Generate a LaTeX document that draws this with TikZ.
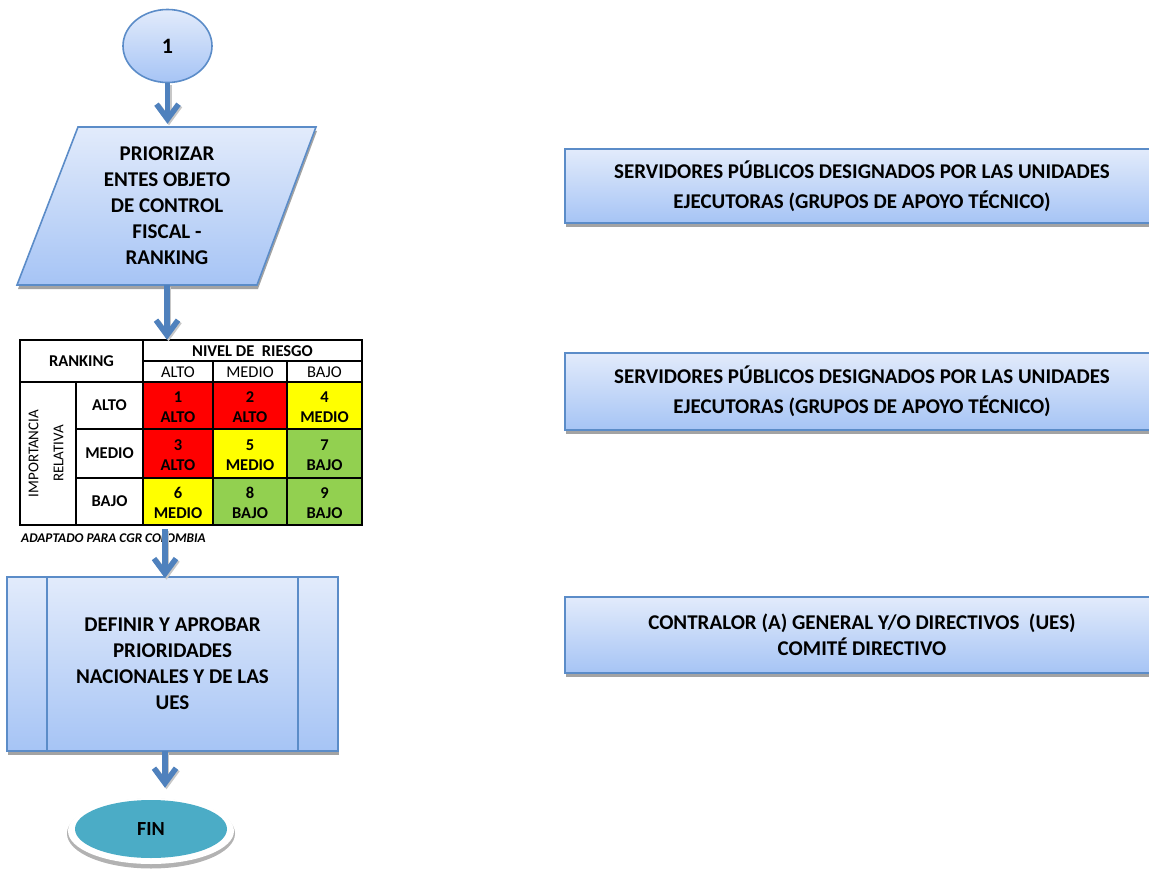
\documentclass[tikz,border=0pt]{standalone}
\usepackage{fontspec}
\setmainfont{Carlito}
\usetikzlibrary{arrows.meta,shapes.geometric,shadows}

\definecolor{boxtop}{HTML}{E2EBFB}
\definecolor{boxbot}{HTML}{A6C4F5}
\definecolor{boxline}{HTML}{5B8CC8}
\definecolor{arrowblue}{HTML}{4F81BD}
\definecolor{finteal}{HTML}{4BACC6}
\definecolor{rred}{HTML}{FF0000}
\definecolor{ryellow}{HTML}{FFFF00}
\definecolor{rgreen}{HTML}{92D050}

\tikzset{
  gradbox/.style={top color=boxtop, bottom color=boxbot, draw=boxline, line width=1.6pt},
  boxshadow/.style={drop shadow={shadow xshift=1pt, shadow yshift=-4pt, fill=black!45, opacity=0.8}},
  maintext/.style={font=\bfseries\fontsize{21}{26}\selectfont, align=center, text=black},
  barbtip/.style={-{Straight Barb[length=15pt,width=22pt]}},
  flowarrow/.style={draw=arrowblue, line width=5.5pt, barbtip,
    preaction={draw=black!22, line width=5.5pt, barbtip,
      transform canvas={xshift=1.5pt,yshift=-1.5pt}}},
  tabline/.style={draw=black, line width=2pt},
  cell/.style={font=\bfseries\fontsize{16.5}{20}\selectfont, align=center, inner sep=0pt},
  hdr/.style={font=\bfseries\fontsize{16.5}{20}\selectfont, align=center, inner sep=0pt},
  subhdr/.style={font=\fontsize{16.5}{20}\selectfont, align=center, inner sep=0pt},
  roletext/.style={font=\bfseries\fontsize{21}{30}\selectfont, align=center, text=black}
}

\begin{document}
\begin{tikzpicture}[x=1pt,y=-1pt]
\useasboundingbox (0,0) rectangle (1149,869);
\clip (0,0) rectangle (1149,869);

% start connector
\node[ellipse, gradbox, minimum width=89pt, minimum height=73pt, inner sep=0pt,
      font=\bfseries\fontsize{22}{26}\selectfont] (c1) at (167.5,46) {1};

% data step: prioritise the audited entities
\path[gradbox, boxshadow] (78,127) -- (316,127) -- (257,285) -- (17,285) -- cycle;
\node[maintext, minimum height=158pt, inner sep=0pt] (pz) at (167,206)
  {PRIORIZAR\\ENTES OBJETO\\DE CONTROL\\FISCAL -\\RANKING};

% risk ranking matrix
\node[minimum width=342pt, minimum height=185pt, inner sep=0pt] (tbl) at (191,432.5) {};
\fill[rred]    (143,382) rectangle (213,429);
\fill[rred]    (213,382) rectangle (287,429);
\fill[ryellow] (287,382) rectangle (362,429);
\fill[rred]    (143,429) rectangle (213,478);
\fill[ryellow] (213,429) rectangle (287,478);
\fill[rgreen]  (287,429) rectangle (362,478);
\fill[ryellow] (143,478) rectangle (213,525);
\fill[rgreen]  (213,478) rectangle (287,525);
\fill[rgreen]  (287,478) rectangle (362,525);
\draw[tabline] (20,340) rectangle (362,525);
\draw[tabline] (143,361) -- (362,361);
\draw[tabline] (20,382) -- (362,382);
\draw[tabline] (76,429) -- (362,429);
\draw[tabline] (76,478) -- (362,478);
\draw[tabline] (143,340) -- (143,525);
\draw[tabline] (76,382) -- (76,525);
\draw[tabline] (213,361) -- (213,525);
\draw[tabline] (287,361) -- (287,525);

\node[hdr] (hrank) at (81.5,361) {RANKING};
\node[hdr] (hnivel) at (252.5,351) {NIVEL DE\ \ RIESGO};
\node[subhdr] (sa) at (178,372) {ALTO};
\node[subhdr] (sm) at (250,372) {MEDIO};
\node[subhdr] (sb) at (324.5,372) {BAJO};
\node[subhdr, rotate=90, font=\fontsize{15}{25}\selectfont] (imp) at (46,453.5) {IMPORTANCIA\\RELATIVA};
\node[hdr] (ra) at (109.5,405.5) {ALTO};
\node[hdr] (rm) at (109.5,453.5) {MEDIO};
\node[hdr] (rb) at (109.5,501.5) {BAJO};

\node[cell] (c11) at (178,407)   {1\\ALTO};
\node[cell] (c12) at (250,407)   {2\\ALTO};
\node[cell] (c13) at (324.5,407) {4\\MEDIO};
\node[cell] (c21) at (178,455)   {3\\ALTO};
\node[cell] (c22) at (250,455)   {5\\MEDIO};
\node[cell] (c23) at (324.5,455) {7\\BAJO};
\node[cell] (c31) at (178,503)   {6\\MEDIO};
\node[cell] (c32) at (250,503)   {8\\BAJO};
\node[cell] (c33) at (324.5,503) {9\\BAJO};

\node[anchor=west, inner sep=0pt, font=\bfseries\itshape\fontsize{13.3}{15}\selectfont] (src) at (21,538)
  {ADAPTADO PARA CGR COLOMBIA};

% predefined process
\node[gradbox, boxshadow, minimum width=331pt, minimum height=174pt, inner sep=0pt,
      maintext] (prd) at (172.5,664)
  {DEFINIR Y APROBAR\\PRIORIDADES\\NACIONALES Y DE LAS\\UES};
\draw[boxline, line width=1.6pt] (47,577) -- (47,751);
\draw[boxline, line width=1.6pt] (298,577) -- (298,751);

% end terminator
\fill[black!30] (151,833.5) ellipse [x radius=84, y radius=35];
\fill[white] (151,831) ellipse [x radius=83, y radius=33];
\node[ellipse, fill=finteal, minimum width=152pt, minimum height=58pt, inner sep=0pt,
      font=\bfseries\fontsize{20}{24}\selectfont] (fin) at (151,829) {FIN};

% responsible roles
\node[gradbox, boxshadow, minimum width=594pt, minimum height=74pt, roletext] (g1) at (862,186)
  {SERVIDORES PÚBLICOS DESIGNADOS POR LAS UNIDADES\\EJECUTORAS (GRUPOS DE APOYO TÉCNICO)};
\node[gradbox, boxshadow, minimum width=594pt, minimum height=77pt, roletext] (g2) at (862,391.5)
  {SERVIDORES PÚBLICOS DESIGNADOS POR LAS UNIDADES\\EJECUTORAS (GRUPOS DE APOYO TÉCNICO)};
\node[gradbox, boxshadow, minimum width=594pt, minimum height=76pt, roletext,
      font=\bfseries\fontsize{21}{26}\selectfont] (g3) at (862,635)
  {CONTRALOR (A) GENERAL Y/O DIRECTIVOS\ \ (UES)\\COMITÉ DIRECTIVO};

% flow connectors
\coordinate (a3) at (165,529);
\coordinate (a4) at (165,751);
\draw[flowarrow, shorten >=3pt] (c1.south) -- (c1.south |- pz.north);
\draw[flowarrow] (pz.south) -- (pz.south |- tbl.north);
\draw[flowarrow, shorten >=-2pt] (a3) -- (a3 |- prd.north);
\draw[flowarrow, shorten >=12pt] (a4) -- (a4 |- fin.north);
\end{tikzpicture}
\end{document}
